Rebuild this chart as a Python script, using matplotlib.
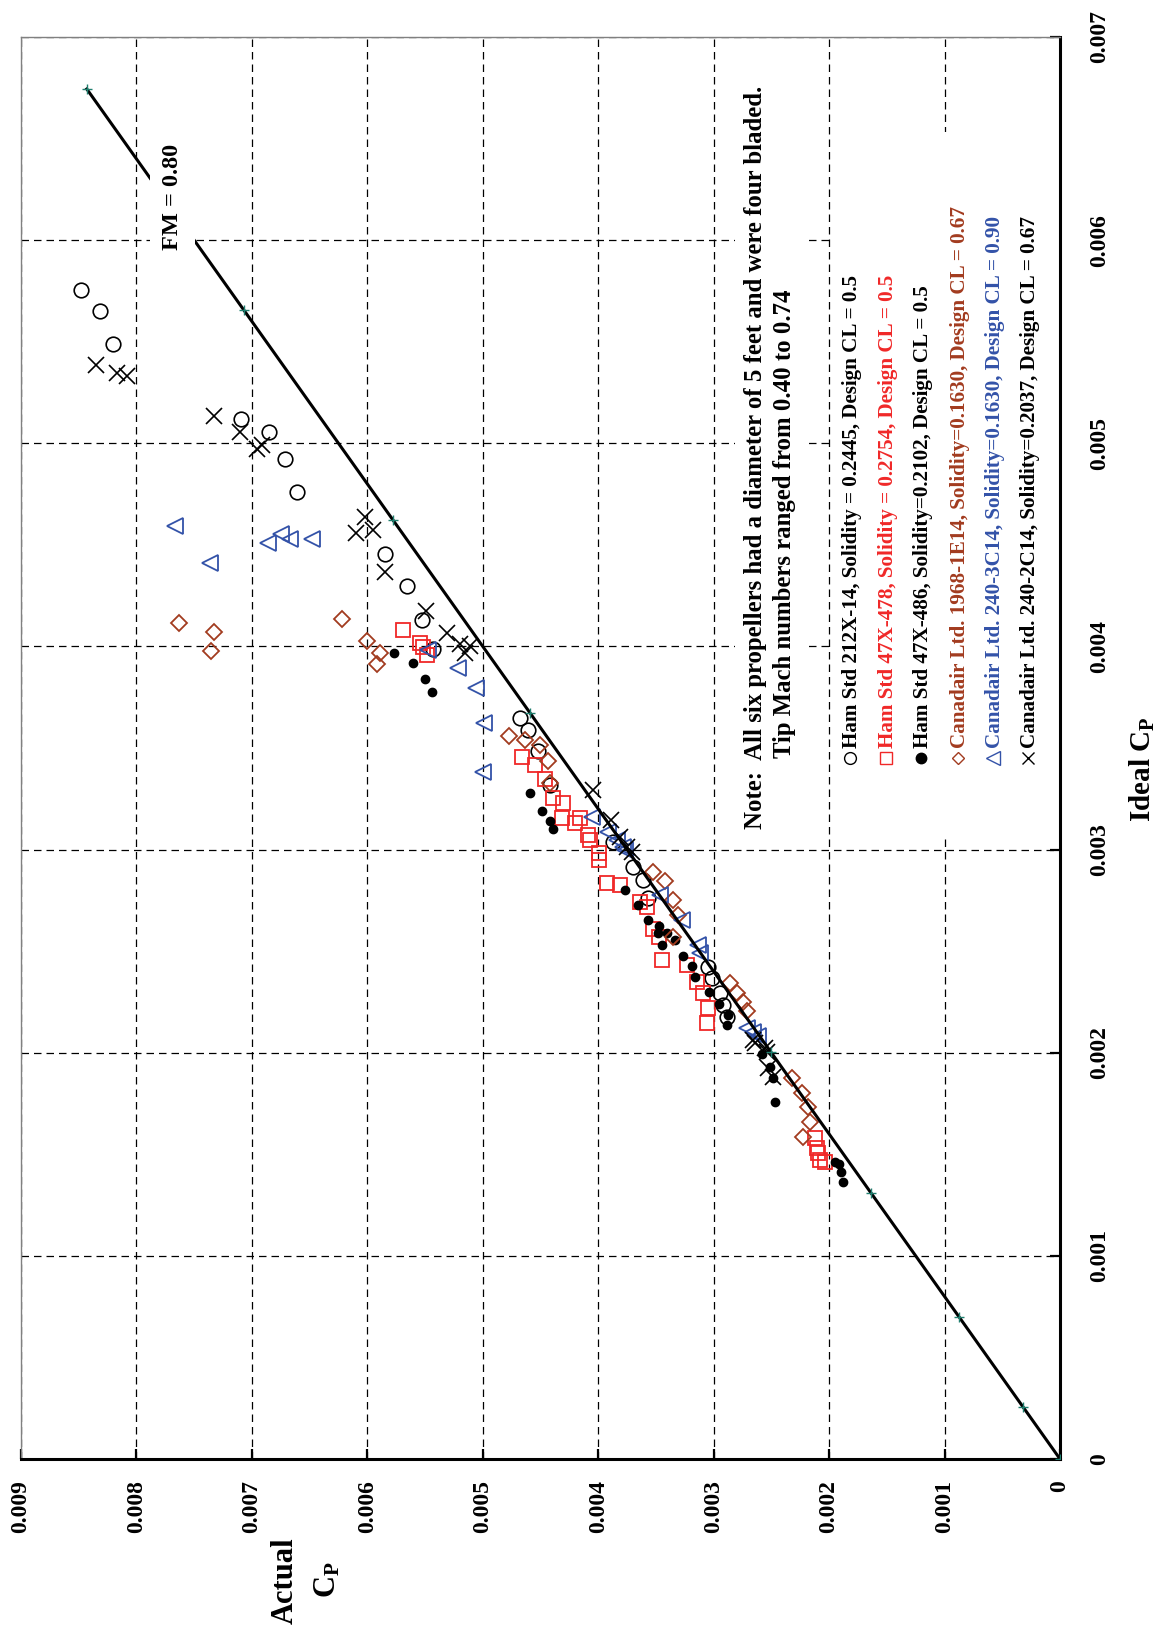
import numpy as np
import matplotlib
matplotlib.use("Agg")
import matplotlib.pyplot as plt
from matplotlib.patches import Rectangle
from matplotlib.lines import Line2D

# all values below are in units of 1e-3  (actual Cp, ideal Cp)
ham212_actual = [8.478, 8.316, 8.206, 7.095, 6.849, 6.711, 6.609, 5.847, 5.659, 5.529, 5.429,
                 4.678, 4.606, 4.519, 4.418, 3.869, 3.696, 3.609, 3.566, 3.047, 3.017, 2.945,
                 2.917, 2.887]
ham212_ideal = [5.755, 5.651, 5.487, 5.118, 5.057, 4.923, 4.759, 4.455, 4.299, 4.130, 3.986,
                3.646, 3.589, 3.483, 3.318, 3.039, 2.916, 2.850, 2.760, 2.423, 2.366, 2.293,
                2.235, 2.177]

ham478_actual = [5.689, 5.544, 5.515, 5.486, 4.663, 4.548, 4.461, 4.395, 4.303, 4.317, 4.201,
                 4.158, 4.086, 4.071, 3.991, 3.991, 3.927, 3.812, 3.638, 3.580, 3.528, 3.471,
                 3.450, 3.234, 3.147, 3.090, 3.047, 3.061, 2.122, 2.108, 2.094, 2.079, 2.036]
ham478_ideal = [4.081, 4.015, 3.999, 3.958, 3.457, 3.416, 3.346, 3.256, 3.228, 3.154, 3.129,
                3.154, 3.072, 3.047, 2.982, 2.949, 2.834, 2.826, 2.743, 2.719, 2.609, 2.572,
                2.456, 2.432, 2.350, 2.293, 2.219, 2.148, 1.579, 1.529, 1.505, 1.472, 1.464]

ham486_actual = [5.769, 5.602, 5.501, 5.443, 4.591, 4.490, 4.418, 4.395, 3.768, 3.653, 3.566,
                 3.471, 3.479, 3.407, 3.335, 3.450, 3.263, 3.191, 3.162, 3.038, 2.951, 2.873,
                 2.882, 2.584, 2.512, 2.484, 2.469, 1.949, 1.912, 1.900, 1.877]
ham486_ideal = [3.969, 3.920, 3.838, 3.774, 3.280, 3.191, 3.142, 3.101, 2.801, 2.727, 2.653,
                2.624, 2.588, 2.588, 2.555, 2.530, 2.474, 2.427, 2.374, 2.301, 2.240, 2.186,
                2.136, 1.994, 1.931, 1.874, 1.759, 1.464, 1.452, 1.414, 1.365]

can1e14_actual = [7.629, 7.329, 7.357, 6.220, 6.006, 5.890, 5.919, 4.770, 4.634, 4.505, 4.433,
                  4.418, 3.523, 3.422, 3.350, 3.306, 3.350, 2.859, 2.801, 2.743, 2.709, 2.325,
                  2.238, 2.180, 2.166, 2.224]
can1e14_ideal = [4.117, 4.070, 3.978, 4.134, 4.028, 3.966, 3.913, 3.559, 3.539, 3.515, 3.436,
                 3.326, 2.891, 2.843, 2.752, 2.678, 2.572, 2.342, 2.293, 2.252, 2.203, 1.874,
                 1.800, 1.734, 1.661, 1.587]

can3c14_actual = [7.666, 7.363, 6.858, 6.751, 6.670, 6.482, 5.472, 5.212, 5.059, 4.987, 4.996,
                  4.057, 3.913, 3.840, 3.783, 3.768, 3.465, 3.277, 3.133, 3.119, 2.714, 2.657,
                  2.614]
can3c14_ideal = [4.593, 4.409, 4.511, 4.554, 4.530, 4.530, 3.983, 3.892, 3.794, 3.625, 3.384,
                 3.162, 3.088, 3.047, 3.014, 2.998, 2.776, 2.653, 2.530, 2.489, 2.120, 2.104,
                 2.081]

can2c14_actual = [8.353, 8.171, 8.085, 7.329, 7.103, 6.959, 6.916, 6.020, 6.098, 5.948, 5.847,
                  5.492, 5.313, 5.198, 5.111, 5.154, 4.043, 3.892, 3.812, 3.753, 3.710, 2.657,
                  2.555, 2.642, 2.541, 2.527, 2.484]
can2c14_ideal = [5.385, 5.345, 5.331, 5.136, 5.057, 4.970, 4.990, 4.639, 4.560, 4.573, 4.368,
                 4.174, 4.065, 4.010, 4.002, 3.966, 3.293, 3.146, 3.064, 3.014, 2.990, 2.063,
                 2.022, 2.047, 2.005, 1.923, 1.882]

# FM = 0.80 line, ideal Cp where the small markers sit
fm_value = 0.80
fm_marks_ideal = [0.0, 0.256, 0.700, 1.308, 2.005, 3.671, 4.622, 5.656, 6.744]

actual_ticks = [0, 1, 2, 3, 4, 5, 6, 7, 8, 9]
actual_labels = ["0", "0.001", "0.002", "0.003", "0.004", "0.005", "0.006", "0.007", "0.008", "0.009"]
ideal_ticks = [0, 1, 2, 3, 4, 5, 6, 7]
ideal_labels = ["0", "0.001", "0.002", "0.003", "0.004", "0.005", "0.006", "0.007"]

legend_labels = [
    "Ham Std 212X-14, Solidity = 0.2445, Design CL = 0.5",
    "Ham Std 47X-478, Solidity = 0.2754, Design CL = 0.5",
    "Ham Std 47X-486, Solidity=0.2102, Design CL = 0.5",
    "Canadair Ltd. 1968-1E14, Solidity=0.1630, Design CL = 0.67",
    "Canadair Ltd. 240-3C14, Solidity=0.1630, Design CL = 0.90",
    "Canadair Ltd. 240-2C14, Solidity=0.2037, Design CL = 0.67",
]

RED = "#f02828"
BROWN = "#a23b1f"
BLUE = "#3352a8"
GREEN = "#1f7f6f"

plt.rcParams["font.family"] = ["Liberation Serif", "DejaVu Sans"]
plt.rcParams["font.weight"] = "bold"
plt.rcParams["mathtext.fontset"] = "custom"
plt.rcParams["mathtext.rm"] = "Liberation Serif:bold"
plt.rcParams["mathtext.it"] = "Liberation Serif:bold"
plt.rcParams["mathtext.bf"] = "Liberation Serif:bold"

W, H = 1162, 1628
fig = plt.figure(figsize=(W / 100, H / 100), dpi=100)
# plot frame in pixels: left 21, right 1060, top 37, bottom 1459
ax = fig.add_axes([21 / W, 1 - 1459 / H, 1039 / W, 1422 / H])


def fig_xy(px, py):
    return px / W, 1 - py / H


s = 1e-3
ax.set_xlim(9 * s, 0)
ax.set_ylim(0, 7 * s)
ax.set_axisbelow(True)
ax.grid(True, color="black", linestyle=(0, (6, 4)), linewidth=0.9)

# white boxes behind the note and the legend
ax.add_patch(Rectangle((2.200 * s, 3.050 * s), 0.615 * s, 3.560 * s,
                       facecolor="white", edgecolor="none", zorder=1))
ax.add_patch(Rectangle((0.0, 3.050 * s), 1.966 * s, 3.480 * s,
                       facecolor="white", edgecolor="none", zorder=1))

# marker styles (shared by plot and legend)
styles = [
    dict(marker="o", mfc="none", mec="black", ms=10.5, mew=1.2),
    dict(marker="s", mfc="none", mec=RED, ms=10.5, mew=1.3),
    dict(marker="o", mfc="black", mec="black", ms=6),
    dict(marker="D", mfc="none", mec=BROWN, ms=7.8, mew=1.3),
    dict(marker="<", mfc="none", mec=BLUE, ms=12, mew=1.3),
    dict(marker="x", color="black", ms=11, mew=1.2),
]
series = [(ham212_actual, ham212_ideal), (ham478_actual, ham478_ideal),
          (ham486_actual, ham486_ideal), (can1e14_actual, can1e14_ideal),
          (can3c14_actual, can3c14_ideal), (can2c14_actual, can2c14_ideal)]
for (xa, yi), st in zip(series, styles):
    ax.plot(np.array(xa) * s, np.array(yi) * s, ls="none", zorder=3, **st)

fm_ideal = np.array([0.0, fm_marks_ideal[-1]]) * s
ax.plot(fm_ideal / fm_value, fm_ideal, color="black", lw=2.2, zorder=5)
fm_marks = np.array(fm_marks_ideal) * s
ax.plot(fm_marks / fm_value, fm_marks, "+", ls="none", color=GREEN, ms=7, mew=1, zorder=6)

ax.text(*fig_xy(178, 250), "FM = 0.80", transform=fig.transFigure, rotation=90,
        rotation_mode="anchor", ha="left", va="baseline", fontsize=17.5, zorder=7,
        bbox=dict(facecolor="white", edgecolor="none", pad=9))

# note
fig.text(*fig_xy(762, 829), "Note:  All six propellers had a diameter of 5 feet and were four bladed.",
         rotation=90, rotation_mode="anchor", ha="left", va="baseline", fontsize=17.8)
fig.text(*fig_xy(791, 758), "Tip Mach numbers ranged from 0.40 to 0.74",
         rotation=90, rotation_mode="anchor", ha="left", va="baseline", fontsize=17.8)

# legend: small symbol, then the entry text
legend_colors = ["black", RED, "black", BROWN, BLUE, "black"]
legend_base_x = [857, 893, 928, 965, 1000, 1035]
legend_sizes = [8.5, 8.5, 7.5, 6.5, 9.5, 9.0]
for lab, col, bx, st, ms in zip(legend_labels, legend_colors, legend_base_x, styles, legend_sizes):
    st = dict(st, ms=ms, mew=1.0)
    mx, my = fig_xy(bx - 7, 758)
    fig.add_artist(Line2D([mx], [my], transform=fig.transFigure, ls="none", **st))
    fig.text(*fig_xy(bx, 748), lab, color=col, rotation=90, rotation_mode="anchor",
             ha="left", va="baseline", fontsize=15.2)

# axes styling
ax.set_xticks(np.array(actual_ticks) * s)
ax.set_xticklabels(actual_labels, rotation=90, fontsize=17, fontweight="bold")
ax.yaxis.tick_right()
ax.set_yticks(np.array(ideal_ticks) * s)
ax.set_yticklabels(ideal_labels, rotation=90, fontsize=17, fontweight="bold", va="center")
ax.tick_params(axis="x", direction="in", length=7, width=1.6, pad=15)
ax.tick_params(axis="y", direction="in", length=7, width=1.6, pad=21)
for side in ["bottom", "right"]:
    ax.spines[side].set_linewidth(2.2)
for side in ["top", "left"]:
    ax.spines[side].set_linewidth(1.0)
    ax.spines[side].set_color("#808080")

fig.text(*fig_xy(1151, 822), "Ideal C$_{\\mathrm{P}}$", rotation=90, rotation_mode="anchor",
         ha="left", va="baseline", fontsize=21)
fig.text(*fig_xy(293, 1624), "Actual", rotation=90, rotation_mode="anchor",
         ha="left", va="baseline", fontsize=22)
fig.text(*fig_xy(335, 1598), "C$_{\\mathrm{P}}$", rotation=90, rotation_mode="anchor",
         ha="left", va="baseline", fontsize=22)

fig.savefig("out.png", dpi=100)
